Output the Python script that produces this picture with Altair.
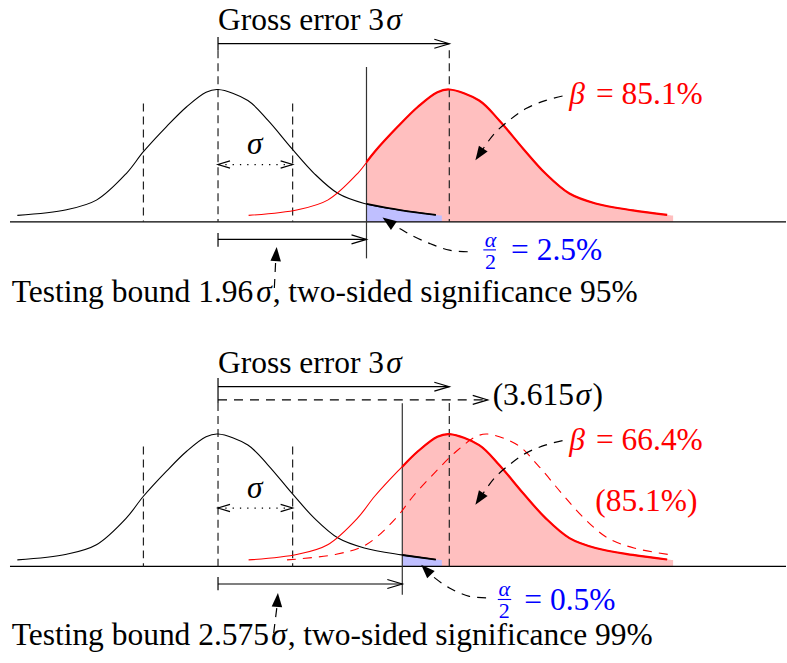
import math
import numpy as np
import pandas as pd
import altair as alt

# ---------------- values ----------------
# bell-curve profile: offset from the curve centre (sigma) and height (peak = 1)
PROFILE_D = [-2.69, -2.03, -1.63, -1.23, -1.00, -0.69, -0.42, -0.16, 0.00,
             0.40, 0.67, 0.99, 1.29, 1.61, 1.96, 2.46, 2.92, 3.00]
PROFILE_H = [0.049, 0.092, 0.164, 0.365, 0.53, 0.72, 0.87, 0.98, 1.00,
             0.917, 0.766, 0.553, 0.365, 0.214, 0.139, 0.087, 0.052, 0.048]

NULL_MEAN = 0.0
ALT_MEAN = 3.10            # drawn position of the 3 sigma gross error
SHIFTED_MEAN = 3.615       # (3.615 sigma) alternative of the lower panel
BOUNDS = [1.99, 2.47]      # drawn testing bounds (1.96 sigma / 2.575 sigma)
BOUND_LABELS = ["1.96", "2.575"]
SIGNIFICANCE = ["95%", "99%"]
BETA = ["85.1%", "66.4%"]
HALF_ALPHA = ["2.5%", "0.5%"]
OLD_BETA = "85.1%"
SHIFT_LABEL = "3.615"

# ---------------- layout ----------------
W = 787
H_PANELS = [345, 318]
PX_X = 74.7          # px per sigma
PX_Y = 132.5         # px per unit height
X_ORIGIN = 218.3
BASE_FROM_TOP = 221.7
XDOM = [-X_ORIGIN / PX_X, (W - X_ORIGIN) / PX_X]
LINE_END = 2.92
FONT = "Liberation Serif, Times New Roman, DejaVu Serif, serif"
FS = 31.5
FS_SMALL = 22
CURVE = "catmull-rom"
RED, BLUE = "#ff0000", "#0000ff"
RED_FILL, BLUE_FILL = "#ffbfbf", "#bfbfff"
OPEN_HEAD = "M-2,-0.6L0,0L-2,0.6"
FILLED_HEAD = "M0,0L-2,-0.75L-2,0.75Z"

ANN = [
    dict(gross_y=1.346, tick=(1.296, 1.396), dash_top=1.296, sig_top=0.894,
         dotted_y=0.433, bound_line=(-0.276, 1.17), test_y=-0.133, test_tick=(-0.085, -0.189),
         gross_text_y=1.451, sig_lab_y=0.511, beta_y=0.888, bottom_y=-0.602,
         comma_x=0.732, sigma_x=0.514,
         frac_x=3.651, frac_bar=(3.556, 3.726), a_y=-0.187, two_y=-0.36, bar_y=-0.212,
         eq_x=3.928, eq_y=-0.289,
         alpha_path=[(3.347, -0.226), (3.102, -0.214), (2.834, -0.163), (2.589, -0.100),
                     (2.432, -0.050), (2.339, -0.021)], alpha_tip=(2.205, 0.032),
         test_path=[(0.755, -0.500), (0.772, -0.304)], test_tip=(0.786, -0.191)),
    dict(gross_y=1.358, tick=(1.235, 1.424), dash_top=1.235, sig_top=0.906,
         dotted_y=0.441, bound_line=(-0.214, 1.233), test_y=-0.133, test_tick=(-0.080, -0.181),
         gross_text_y=1.46, sig_lab_y=0.515, beta_y=0.881, bottom_y=-0.591,
         comma_x=0.933, sigma_x=0.715,
         frac_x=3.838, frac_bar=(3.75, 3.93), a_y=-0.223, two_y=-0.39, bar_y=-0.25,
         eq_x=4.106, eq_y=-0.327,
         alpha_path=[(3.593, -0.238), (3.369, -0.226), (3.102, -0.163), (2.878, -0.075),
                     (2.841, -0.055)], alpha_tip=(2.723, 0.013),
         test_path=[(0.746, -0.503), (0.790, -0.304)], test_tip=(0.803, -0.201)),
]
BETA_PATH = [(4.618, 0.951), (4.396, 0.918), (4.128, 0.856), (3.905, 0.768),
             (3.704, 0.667), (3.550, 0.549)]
BETA_TIP = (3.450, 0.466)


def profile(mean, xmin=None, dmax=LINE_END):
    d = np.array(PROFILE_D)
    h = np.array(PROFILE_H)
    x = mean + d
    keep = d <= dmax + 1e-9
    if xmin is not None:
        keep &= x > xmin
    xs, hs = [float(v) for v in x[keep]], [float(v) for v in h[keep]]
    if xmin is not None:
        xs = [xmin] + xs
        hs = [float(np.interp(xmin, x, h))] + hs
    return pd.DataFrame({"x": xs, "y": hs})


def angle(base, tip):
    dx = (tip[0] - base[0]) * PX_X
    dy = -(tip[1] - base[1]) * PX_Y
    return math.degrees(math.atan2(dy, dx)) % 360


def build_panel(k):
    a = ANN[k]
    height = H_PANELS[k]
    ydom = [-(height - BASE_FROM_TOP) / PX_Y, BASE_FROM_TOP / PX_Y]
    X = alt.X("x:Q", scale=alt.Scale(domain=XDOM, nice=False, zero=False), axis=None)
    Y = alt.Y("y:Q", scale=alt.Scale(domain=ydom, nice=False, zero=False), axis=None)
    bound = BOUNDS[k]
    layers = []

    def line(df, **mk):
        return alt.Chart(df).mark_line(**mk).encode(x=X, y=Y)

    def area(df, color):
        df = df.assign(y0=0.0)
        return alt.Chart(df).mark_area(color=color, interpolate=CURVE).encode(
            x=X, y=Y, y2="y0:Q")

    def rules(rows, **mk):
        df = pd.DataFrame(rows, columns=["x", "y", "x2", "y2"])
        return alt.Chart(df).mark_rule(**mk).encode(x=X, y=Y, x2="x2:Q", y2="y2:Q")

    def heads(rows, shape, size, filled, color="black"):
        df = pd.DataFrame(rows, columns=["x", "y", "ang"])
        mk = dict(shape=shape, size=size, filled=filled, opacity=1)
        if filled:
            mk.update(fill=color, strokeWidth=0)
        else:
            mk.update(stroke=color, strokeWidth=1.2, fillOpacity=0)
        return alt.Chart(df).mark_point(**mk).encode(
            x=X, y=Y, angle=alt.Angle("ang:Q", scale=None))

    def texts(rows, italic=False, align="left", size=FS):
        df = pd.DataFrame(rows, columns=["t", "x", "y", "c"])
        mk = dict(font=FONT, fontSize=size, align=align, baseline="alphabetic")
        if italic:
            mk["fontStyle"] = "italic"
        return alt.Chart(df).mark_text(**mk).encode(
            x=X, y=Y, text="t:N", color=alt.Color("c:N", scale=None))

    # fills
    layers.append(area(profile(ALT_MEAN, xmin=bound, dmax=3.0), RED_FILL))
    layers.append(area(profile(NULL_MEAN, xmin=bound, dmax=3.0), BLUE_FILL))

    # axis line and vertical guides
    layers.append(rules([(XDOM[0] + 10 / PX_X, 0, XDOM[1], 0)], color="black", strokeWidth=1.2))
    layers.append(rules([(-1, a["sig_top"], -1, 0), (1, a["sig_top"], 1, 0),
                         (0, a["dash_top"], 0, 0), (ALT_MEAN, a["dash_top"], ALT_MEAN, 0)],
                        color="#222", strokeWidth=1.2, strokeDash=[8, 5]))
    layers.append(rules([(bound, a["bound_line"][0], bound, a["bound_line"][1])],
                        color="#333", strokeWidth=1.2))

    # curves
    layers.append(line(profile(NULL_MEAN), color="black", strokeWidth=1.1, interpolate=CURVE))
    layers.append(line(profile(ALT_MEAN), color=RED, strokeWidth=1.1, interpolate=CURVE))
    if k == 1:
        layers.append(line(profile(SHIFTED_MEAN, dmax=2.8), color=RED, strokeWidth=1.1,
                           strokeDash=[9, 7], interpolate=CURVE))
    layers.append(line(profile(ALT_MEAN, xmin=bound), color=RED, strokeWidth=2.2, interpolate=CURVE))
    layers.append(line(profile(NULL_MEAN, xmin=bound), color="black", strokeWidth=1.8, interpolate=CURVE))

    # straight arrows
    t0, t1 = a["tick"]
    arrows = [(0, a["gross_y"], ALT_MEAN, a["gross_y"]), (0, t0, 0, t1),
              (0, a["test_y"], bound, a["test_y"]), (0, a["test_tick"][0], 0, a["test_tick"][1])]
    layers.append(rules(arrows, color="black", strokeWidth=1.2))
    head_rows = [(ALT_MEAN, a["gross_y"], 0), (bound, a["test_y"], 0)]
    if k == 1:
        layers.append(rules([(0, 1.258, SHIFTED_MEAN, 1.258)], color="black",
                            strokeWidth=1.2, strokeDash=[9, 7]))
        head_rows.append((SHIFTED_MEAN, 1.258, 0))
    layers.append(heads(head_rows, OPEN_HEAD, 225, False))
    layers.append(rules([(0, a["dotted_y"], 1, a["dotted_y"])], color="black",
                        strokeWidth=1.3, strokeDash=[1.3, 6]))
    layers.append(heads([(0, a["dotted_y"], 180), (1, a["dotted_y"], 0)], OPEN_HEAD, 144, False))

    # curved dashed arrows with filled heads
    paths = [BETA_PATH, a["alpha_path"], a["test_path"]]
    tips = [BETA_TIP, a["alpha_tip"], a["test_tip"]]
    prow = []
    for pid, pts in enumerate(paths):
        for i, (x, y) in enumerate(pts):
            prow.append(dict(x=x, y=y, i=i, p=pid))
    layers.append(alt.Chart(pd.DataFrame(prow)).mark_line(
        color="black", strokeWidth=1.2, strokeDash=[9, 7], interpolate="catmull-rom").encode(
        x=X, y=Y, order="i:Q", detail="p:N"))
    layers.append(heads([(t[0], t[1], angle(p[-1], t)) for p, t in zip(paths, tips)],
                        FILLED_HEAD, 196, True))

    # texts
    reg = [("Gross error 3", 0, a["gross_text_y"], "black"),
           (f"Testing bound {BOUND_LABELS[k]}", XDOM[0] + 11.7 / PX_X, a["bottom_y"], "black"),
           (f", two-sided significance {SIGNIFICANCE[k]}", a["comma_x"], a["bottom_y"], "black"),
           (f"= {BETA[k]}", 5.066, a["beta_y"], RED),
           (f"= {HALF_ALPHA[k]}", a["eq_x"], a["eq_y"], BLUE)]
    ita = [("σ", 2.254, a["gross_text_y"], "black"),
           ("σ", a["sigma_x"], a["bottom_y"], "black"),
           ("β", 4.708, a["beta_y"], RED)]
    if k == 1:
        reg += [(f"({SHIFT_LABEL}", 3.681, 1.22, "black"), (")", 5.02, 1.22, "black"),
                (f"({OLD_BETA})", 5.056, 0.415, RED)]
        ita += [("σ", 4.79, 1.22, "black")]
    layers.append(texts(reg))
    layers.append(texts(ita, italic=True))
    layers.append(texts([("σ", 0.491, a["sig_lab_y"], "black")], italic=True, align="center"))
    layers.append(texts([("α", a["frac_x"], a["a_y"], BLUE)], italic=True, align="center", size=FS_SMALL))
    layers.append(texts([("2", a["frac_x"], a["two_y"], BLUE)], align="center", size=FS_SMALL))
    layers.append(rules([(a["frac_bar"][0], a["bar_y"], a["frac_bar"][1], a["bar_y"])],
                        color=BLUE, strokeWidth=1.1))

    return alt.layer(*layers).properties(width=W, height=height)


chart = alt.vconcat(build_panel(0), build_panel(1), spacing=0).properties(
    padding=0, bounds="flush", background="white",
).configure_view(stroke=None)

chart.save("out.html", embed_options={"renderer": "svg", "actions": False})
